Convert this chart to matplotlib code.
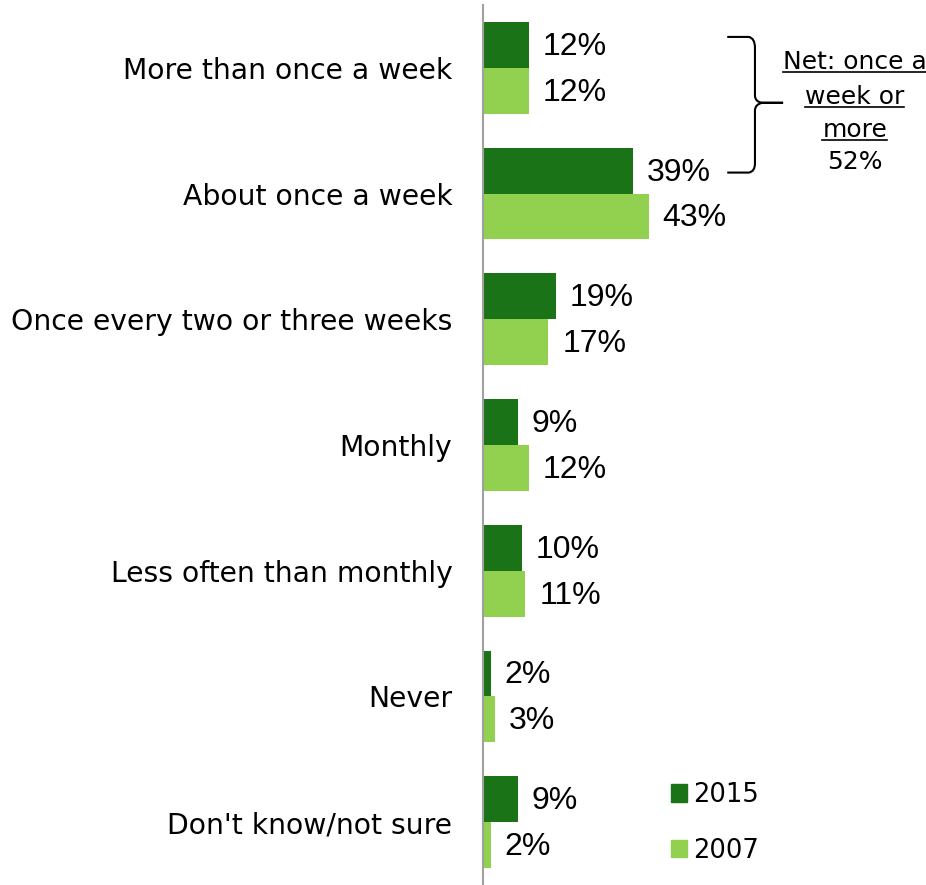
import numpy as np
import matplotlib.pyplot as plt
from matplotlib.path import Path
from matplotlib.patches import PathPatch, Patch

categories = ["More than once a week", "About once a week",
              "Once every two or three weeks", "Monthly",
              "Less often than monthly", "Never", "Don't know/not sure"]
v2015 = [12, 39, 19, 9, 10, 2, 9]
v2007 = [12, 43, 17, 12, 11, 3, 2]

dark = "#1a7317"
light = "#92d050"

fig = plt.figure(figsize=(9.26, 8.85), dpi=100)
ax = fig.add_axes([483 / 926, 0, 443 / 926, 880 / 885])

y = np.arange(len(categories))
h = 0.365
ax.barh(y - h / 2, v2015, height=h, color=dark, label="2015")
ax.barh(y + h / 2, v2007, height=h, color=light, label="2007")

ax.set_xlim(0, 115)
ax.set_ylim(6.5, -0.5)

for yi, a, b in zip(y, v2015, v2007):
    ax.text(a + 3.6, yi - h / 2 + 0.015, f"{a}%", va="center", ha="left",
            fontsize=23, family="Liberation Sans")
    ax.text(b + 3.6, yi + h / 2 + 0.015, f"{b}%", va="center", ha="left",
            fontsize=23, family="Liberation Sans")

ax.set_yticks(y)
ax.set_yticklabels(categories, fontsize=20.3, family="DejaVu Sans")
ax.tick_params(axis="y", length=0, pad=22)
ax.set_xticks([])
for s in ["top", "right", "bottom"]:
    ax.spines[s].set_visible(False)
ax.spines["left"].set_color("#a0a0a0")
ax.spines["left"].set_linewidth(1.5)

# bracket for net
verts = [(63.4, -0.246), (69.0, -0.246), (70.6, -0.235), (70.6, -0.16),
         (70.6, 0.22), (70.6, 0.27), (72.5, 0.278), (77.9, 0.278),
         (72.5, 0.278), (70.6, 0.29), (70.6, 0.34),
         (70.6, 0.76), (70.6, 0.825), (69.0, 0.833), (63.4, 0.833)]
codes = [Path.MOVETO, Path.LINETO, Path.CURVE3, Path.CURVE3,
         Path.LINETO, Path.CURVE3, Path.CURVE3, Path.LINETO,
         Path.LINETO, Path.CURVE3, Path.CURVE3,
         Path.LINETO, Path.CURVE3, Path.CURVE3, Path.LINETO]
ax.add_patch(PathPatch(Path(verts, codes), fill=False, lw=1.5,
                       edgecolor="black", clip_on=False))

net_lines = ["Net: once a", "week or", "more", "52%"]
net_y = [-0.045, 0.23, 0.495, 0.75]
fig.canvas.draw()
r = fig.canvas.get_renderer()
for i, (t, ty) in enumerate(zip(net_lines, net_y)):
    txt = ax.text(96.5, ty, t, ha="center", va="center", fontsize=18,
                  family="DejaVu Sans")
    if i < 3:
        bb = txt.get_window_extent(renderer=r)
        inv = ax.transData.inverted()
        (x0, y0), (x1, _) = inv.transform([(bb.x0, bb.y0 + 2), (bb.x1, bb.y0)])
        ax.plot([x0, x1], [y0, y0], color="black", lw=1.2, clip_on=False)

leg = ax.legend(handles=[Patch(color=dark, label="2015"),
                         Patch(color=light, label="2007")],
                loc="lower left", bbox_to_anchor=(0.373, -0.002), frameon=False,
                prop={"family": "DejaVu Sans", "size": 18.5},
                handlelength=0.6, handleheight=0.65, handletextpad=0.25,
                labelspacing=1.15)

fig.savefig("out.png", dpi=100)
